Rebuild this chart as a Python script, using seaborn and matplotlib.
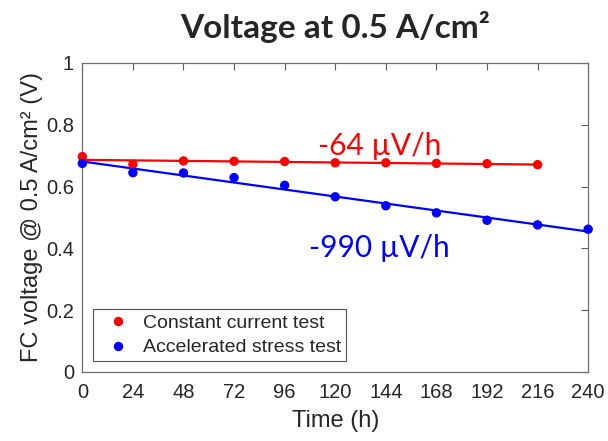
import numpy as np
import pandas as pd
import matplotlib
matplotlib.use("Agg")
import matplotlib.pyplot as plt
import seaborn as sns

# Readings taken every 24 h
cc_hours = [0, 24, 48, 72, 96, 120, 144, 168, 192, 216]
cc_volts = [0.697, 0.672, 0.683, 0.682, 0.681, 0.677, 0.677, 0.675, 0.674, 0.671]
ast_hours = [0, 24, 48, 72, 96, 120, 144, 168, 192, 216, 240]
ast_volts = [0.675, 0.645, 0.644, 0.629, 0.604, 0.567, 0.538, 0.515, 0.491, 0.476, 0.462]

series_names = ["Constant current test", "Accelerated stress test"]
rate_labels = ["-64 \u00b5V/h", "-990 \u00b5V/h"]
x_ticks = list(range(0, 241, 24))
y_ticks = [0, 0.2, 0.4, 0.6, 0.8, 1]
y_tick_labels = ["0", "0.2", "0.4", "0.6", "0.8", "1"]

sns.set_style("white")
plt.rcParams["font.family"] = ["Liberation Sans", "DejaVu Sans"]

df = pd.concat([
    pd.DataFrame({"hours": cc_hours, "volts": cc_volts, "test": series_names[0]}),
    pd.DataFrame({"hours": ast_hours, "volts": ast_volts, "test": series_names[1]}),
])
colors = {series_names[0]: "#ff0000", series_names[1]: "#0000ff"}

fig = plt.figure(figsize=(6.08, 4.41), dpi=100)
ax = fig.add_axes([0.1354, 0.1565, 0.832, 0.7007])

# linear fits
for name, hrs, vs in [(series_names[0], cc_hours, cc_volts), (series_names[1], ast_hours, ast_volts)]:
    k, b = np.polyfit(hrs, vs, 1)
    fit_x = np.array([hrs[0], hrs[-1]])
    sns.lineplot(x=fit_x, y=k * fit_x + b, color=colors[name], lw=1.6, ax=ax, legend=False)

sns.scatterplot(data=df, x="hours", y="volts", hue="test", palette=colors,
                s=46, edgecolor="none", ax=ax, zorder=3, clip_on=False)

ax.set_xlim(0, 240)
ax.set_ylim(0, 1)
ax.set_xticks(x_ticks)
ax.set_yticks(y_ticks)
ax.set_yticklabels(y_tick_labels)
ax.tick_params(direction="in", top=True, right=True, length=5, width=0.8,
               labelsize=14.5, colors="#5a5a5a", labelcolor="#262626")
ax.tick_params(axis="x", pad=8)
ax.tick_params(axis="y", pad=6)
for sp in ax.spines.values():
    sp.set_color("#6e6e6e")
    sp.set_linewidth(0.9)

ax.set_xlabel("Time (h)", fontsize=17, color="#262626", labelpad=6)
ax.set_ylabel("FC voltage @ 0.5 A/cm\u00b2 (V)", fontsize=17, color="#262626", labelpad=2)

ax.text(141, 0.702, rate_labels[0], color="#ff0000", fontsize=21.5, family="Lato",
        ha="center", va="baseline")
ax.text(141, 0.373, rate_labels[1], color="#0000ff", fontsize=21.5, family="Lato",
        ha="center", va="baseline")

fig.suptitle("Voltage at 0.5 A/cm\u00b2", x=0.551, y=0.975, fontsize=24,
             fontweight="bold", family="Lato")

leg = ax.legend(loc="lower left", fontsize=14, frameon=True, fancybox=False,
                edgecolor="#262626", borderpad=0.25, handletextpad=0.3,
                labelspacing=0.35, borderaxespad=0.0, bbox_to_anchor=(0.022, 0.035))
leg.get_frame().set_linewidth(0.8)

fig.savefig("out.png", dpi=100)
